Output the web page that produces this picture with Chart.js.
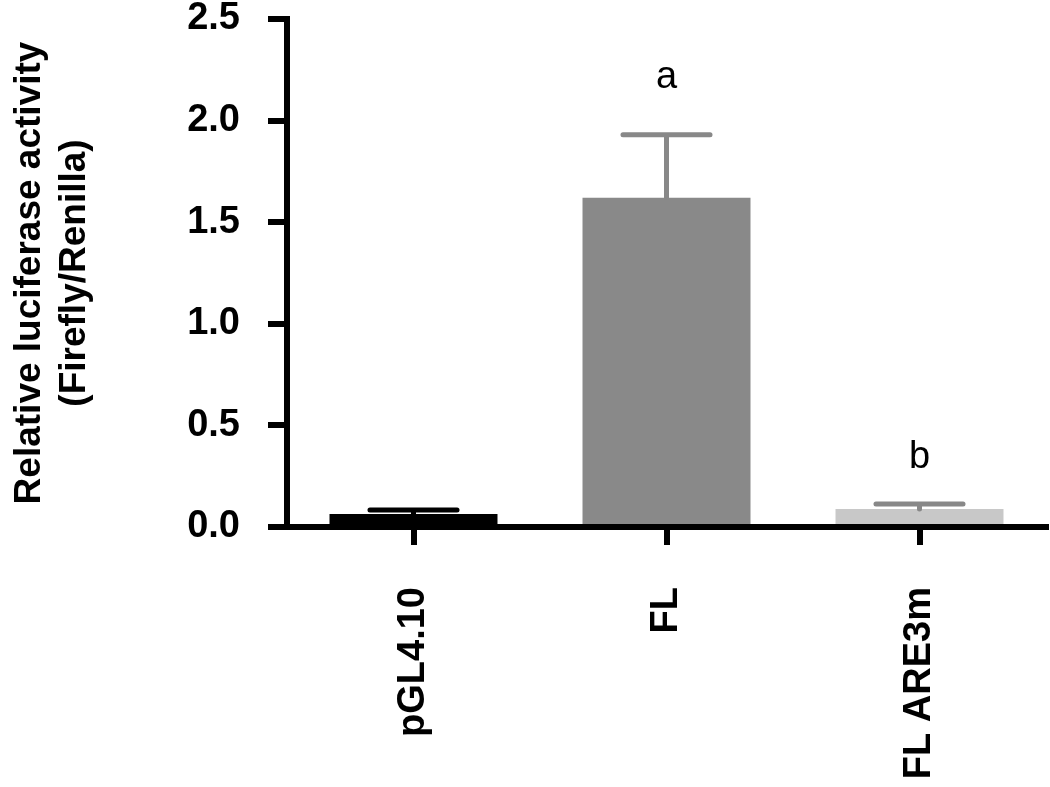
<!DOCTYPE html>
<html>
<head>
<meta charset="utf-8">
<script src="https://cdn.jsdelivr.net/npm/chart.js@4"></script>
<style>
  body { margin: 0; background: #fff; }
</style>
</head>
<body>
<canvas id="lucChart" width="1050" height="787"></canvas>
<script>
var categories = ['pGL4.10', 'FL', 'FL ARE3m'];
var meanValues = [0.064, 1.62, 0.089];
var errorValues = [0.020, 0.31, 0.024];
var sigLetters = ['', 'a', 'b'];
var letterHeights = [null, 2.21, 0.34];
var barColors = ['#000000', '#898989', '#c8c8c8'];
var errColors = ['#000000', '#888888', '#888888'];
var yTicks = [0, 0.5, 1.0, 1.5, 2.0, 2.5];

var fontFamily = 'Arial, "Liberation Sans", sans-serif';

// error bars + significance letters
var errorBarPlugin = {
    id: 'errorBars',
    afterDatasetsDraw: function(chart) {
        var ctx = chart.ctx;
        var xs = chart.scales.x, ys = chart.scales.y;
        var half = (xs.getPixelForValue(1) - xs.getPixelForValue(0)) * 0.172;
        ctx.save();
        ctx.lineCap = 'round';
        categories.forEach(function(c, i) {
            var x = xs.getPixelForValue(i);
            var yTop = ys.getPixelForValue(meanValues[i] + errorValues[i]);
            var yMid = ys.getPixelForValue(meanValues[i]);
            ctx.strokeStyle = errColors[i];
            ctx.lineWidth = 5;
            ctx.beginPath();
            ctx.moveTo(x, yMid);
            ctx.lineTo(x, yTop);
            ctx.moveTo(x - half, yTop);
            ctx.lineTo(x + half, yTop);
            ctx.stroke();
            if (sigLetters[i]) {
                ctx.fillStyle = '#000';
                ctx.font = '38px ' + fontFamily;
                ctx.textAlign = 'center';
                ctx.textBaseline = 'middle';
                ctx.fillText(sigLetters[i], x, ys.getPixelForValue(letterHeights[i]));
            }
        });
        ctx.restore();
    }
};

var ctx = document.getElementById('lucChart').getContext('2d');
var chart = new Chart(ctx, {
    type: 'bar',
    data: {
        labels: categories,
        datasets: [{
            data: meanValues,
            backgroundColor: barColors,
            borderWidth: 0,
            barPercentage: 0.664,
            categoryPercentage: 1.0
        }]
    },
    options: {
        responsive: false,
        animation: false,
        layout: { padding: { top: 19, right: 4, left: 0, bottom: 0 } },
        plugins: {
            legend: { display: false },
            tooltip: { enabled: false }
        },
        scales: {
            x: {
                offset: true,
                afterFit: function(scale) {
                    scale.height = 260;
                    scale.paddingLeft = 0;
                    scale.paddingRight = 0;
                },
                grid: {
                    display: true,
                    drawOnChartArea: false,
                    offset: false,
                    color: '#000',
                    lineWidth: 6,
                    tickLength: 18
                },
                border: { display: true, color: '#000', width: 6 },
                ticks: {
                    color: '#000',
                    minRotation: 90,
                    maxRotation: 90,
                    padding: 42,
                    font: { family: fontFamily, size: 38, weight: 'bold' }
                }
            },
            y: {
                min: 0,
                max: 2.5,
                afterFit: function(scale) {
                    scale.width = 287;
                    scale.paddingTop = 0;
                    scale.paddingBottom = 0;
                },
                afterBuildTicks: function(axis) {
                    axis.ticks = yTicks.map(function(v) { return { value: v }; });
                },
                grid: {
                    display: true,
                    drawOnChartArea: false,
                    color: '#000',
                    lineWidth: 6,
                    tickLength: 19
                },
                border: { display: true, color: '#000', width: 6 },
                ticks: {
                    color: '#000',
                    padding: 28,
                    callback: function(v) { return v.toFixed(1); },
                    font: { family: fontFamily, size: 38, weight: 'bold' }
                },
                title: {
                    display: true,
                    text: ['Relative luciferase activity', '(Firefly/Renilla)'],
                    color: '#000',
                    padding: { top: 8, bottom: 0 },
                    font: { family: fontFamily, size: 37, weight: 'bold', lineHeight: 1.2 }
                }
            }
        }
    },
    plugins: [errorBarPlugin]
});
</script>
</body>
</html>
